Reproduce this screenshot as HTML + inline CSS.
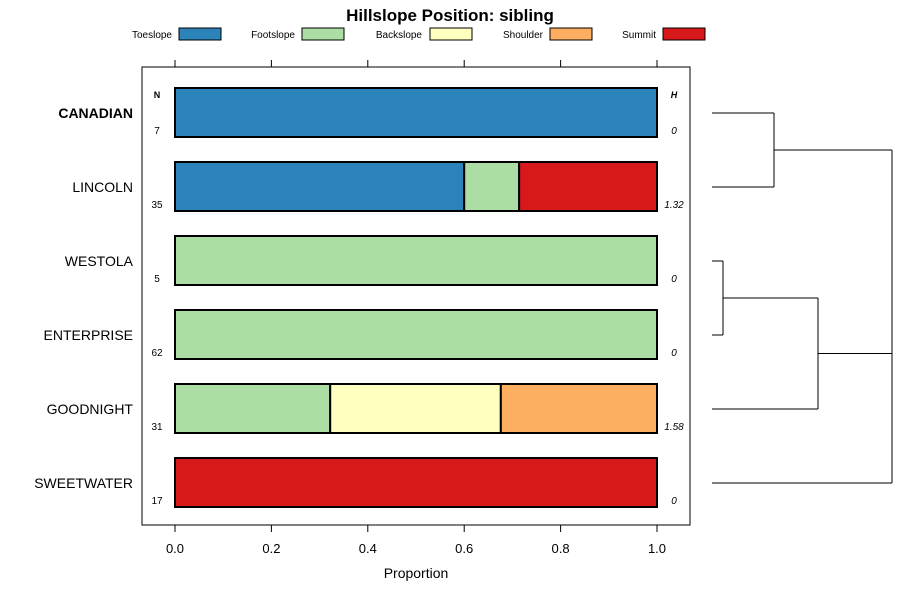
<!DOCTYPE html>
<html><head><meta charset="utf-8"><style>body{margin:0;background:#fff}svg{font-family:"Liberation Sans",sans-serif}</style></head>
<body>
<svg id="c" width="900" height="600" xmlns="http://www.w3.org/2000/svg"></svg>
<script>
const categories=["CANADIAN","LINCOLN","WESTOLA","ENTERPRISE","GOODNIGHT","SWEETWATER"];
const classes=["Toeslope","Footslope","Backslope","Shoulder","Summit"];
const colors=["#2b83ba","#abdda4","#ffffbf","#fdae61","#d7191c"];
const toeslope=[1,0.6,0,0,0,0];
const footslope=[0,0.114,1,1,0.322,0];
const backslope=[0,0,0,0,0.354,0];
const shoulder=[0,0,0,0,0.324,0];
const summit=[0,0.286,0,0,0,1];
const counts=[7,35,5,62,31,17];
const entropy=["0","1.32","0","0","1.58","0"];
const ticks=[0,0.2,0.4,0.6,0.8,1];
const series=[toeslope,footslope,backslope,shoulder,summit];
const svg=document.getElementById('c');const NS="http://www.w3.org/2000/svg";
function el(t,a,txt){const e=document.createElementNS(NS,t);for(const k in a)e.setAttribute(k,a[k]);if(txt!==undefined)e.textContent=txt;svg.appendChild(e);return e;}
const x=v=>175+v*482;const yc=i=>113+i*74;
let e=el('text',{x:450,y:21,'text-anchor':'middle','font-size':17,'font-weight':'bold'},'Hillslope Position: sibling');

const lx=[172,295,422,543,656];const bx=[179,302,430,550,663];
classes.forEach((c,k)=>{
 let t=el('text',{x:lx[k],y:38,'text-anchor':'end','font-size':10},c);
 
 let r=el('rect',{x:bx[k],y:28,width:42,height:12,fill:colors[k],stroke:'#000','stroke-width':1});
 
});
let f=el('rect',{x:142,y:67,width:548,height:458,fill:'none',stroke:'#000','stroke-width':1});

ticks.forEach(v=>{
 el('line',{x1:x(v),x2:x(v),y1:60,y2:67,stroke:'#000'});
 el('line',{x1:x(v),x2:x(v),y1:525,y2:532,stroke:'#000'});
 let t=el('text',{x:x(v),y:553,'text-anchor':'middle','font-size':13},v.toFixed(1));
 
});
e=el('text',{x:416,y:578,'text-anchor':'middle','font-size':14},'Proportion');

el('text',{x:157,y:98,'text-anchor':'middle','font-size':9,'font-weight':'bold'},'N');
el('text',{x:674,y:98,'text-anchor':'middle','font-size':9,'font-weight':'bold','font-style':'italic'},'H');
categories.forEach((c,i)=>{
 let t=el('text',{x:133,y:yc(i)+5,'text-anchor':'end','font-size':14,'font-weight':i==0?'bold':'normal'},c);
 
 let cum=0;
 series.forEach((s,k)=>{const v=s[i];if(v>0){
  let r=el('rect',{x:x(cum),y:yc(i)-25,width:x(cum+v)-x(cum),height:49,fill:colors[k],stroke:'#000','stroke-width':2});
  
  cum+=v;}});
 let n=el('text',{x:157,y:yc(i)+21,'text-anchor':'middle','font-size':10},counts[i]);
 
 let h=el('text',{x:674,y:yc(i)+21,'text-anchor':'middle','font-size':10,'font-style':'italic'},entropy[i]);
 
});
const L=(x1,y1,x2,y2)=>{let l=el('line',{x1,y1,x2,y2,stroke:'#000','stroke-width':1});};
L(712,yc(0),774,yc(0));L(712,yc(1),774,yc(1));L(774,yc(0),774,yc(1));
L(712,yc(2),723,yc(2));L(712,yc(3),723,yc(3));L(723,yc(2),723,yc(3));
const m1=(yc(2)+yc(3))/2;L(723,m1,818,m1);L(712,yc(4),818,yc(4));L(818,m1,818,yc(4));
const m0=(yc(0)+yc(1))/2,m2=(m1+yc(4))/2;
L(774,m0,892,m0);L(818,m2,892,m2);L(712,yc(5),892,yc(5));L(892,m0,892,yc(5));
</script>
</body></html>
